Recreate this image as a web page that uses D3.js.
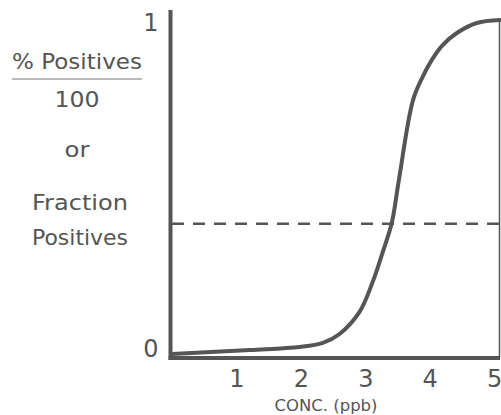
<!DOCTYPE html>
<html>
<head>
<meta charset="utf-8">
<script src="https://cdn.jsdelivr.net/npm/d3@7"></script>
<style>
  body { margin: 0; background: #fff; }
  svg text { font-family: "DejaVu Sans", sans-serif; fill: #555; }
</style>
</head>
<body>
<svg id="chart" width="501" height="415"></svg>
<script>
// concentration (ppb) vs fraction positives
const conc = [0, 1.21, 1.98, 2.34, 2.60, 2.91, 3.12, 3.27, 3.41, 3.52, 3.74, 3.89, 4.03, 4.20, 4.42, 4.73, 5.09];
const fraction = [0, 0.012, 0.021, 0.033, 0.06, 0.126, 0.219, 0.305, 0.392, 0.52, 0.76, 0.83, 0.88, 0.925, 0.961, 0.991, 1.0];
const xTicks = [1, 2, 3, 4, 5];
const yTicks = [0, 1];
const cutoff = 0.39;
const yLabelLines = ["% Positives", "100", "or", "Fraction", "Positives"];
const xLabel = "CONC. (ppb)";

const ink = "#555";
const svg = d3.select("#chart");

const x = d3.scaleLinear().domain([0, 5.09]).range([172, 500]);
const y = d3.scaleLinear().domain([0, 1]).range([354, 20]);
const xAxisY = 358, yAxisX = 170.5;

// x axis labels
const gx = svg.append("g")
    .attr("transform", `translate(0,${xAxisY})`)
    .call(d3.axisBottom(x).tickValues(xTicks).tickFormat(d3.format("d")).tickSize(0).tickPadding(12));
gx.select(".domain").remove();
gx.selectAll("text").style("font-size", "24px").style("font-family", "DejaVu Sans").attr("fill", ink);

// y axis labels
const gy = svg.append("g")
    .attr("transform", `translate(${yAxisX},0)`)
    .call(d3.axisLeft(y).tickValues(yTicks).tickFormat(d3.format("d")).tickSize(0).tickPadding(12));
gy.select(".domain").remove();
gy.selectAll("text").style("font-size", "24px").style("font-family", "DejaVu Sans").attr("fill", ink)
    .attr("dy", d => d === 0 ? "0.12em" : "0.45em");

// axis lines
svg.append("line")
    .attr("x1", yAxisX).attr("x2", yAxisX)
    .attr("y1", 10).attr("y2", xAxisY + 2)
    .attr("stroke", ink).attr("stroke-width", 4);
svg.append("line")
    .attr("x1", yAxisX - 2).attr("x2", x(5.09))
    .attr("y1", xAxisY).attr("y2", xAxisY)
    .attr("stroke", ink).attr("stroke-width", 4);
// thin right border
svg.append("line")
    .attr("x1", 499.5).attr("x2", 499.5)
    .attr("y1", y(1)).attr("y2", xAxisY)
    .attr("stroke", ink).attr("stroke-width", 1.5);

// dashed level
svg.append("line")
    .attr("x1", x(0)).attr("x2", x(5.09))
    .attr("y1", y(cutoff)).attr("y2", y(cutoff))
    .attr("stroke", ink).attr("stroke-width", 2.5)
    .attr("stroke-dasharray", "12,9");

// response curve
const pts = conc.map((c, i) => [c, fraction[i]]);
svg.append("path")
    .datum(pts)
    .attr("fill", "none")
    .attr("stroke", ink)
    .attr("stroke-width", 4)
    .attr("stroke-linecap", "round")
    .attr("d", d3.line().x(d => x(d[0])).y(d => y(d[1])).curve(d3.curveCatmullRom.alpha(0.5)));

// y title as stacked lines
const titleY = [69, 107, 157, 210, 245];
const titleX = [77, 77, 77, 80, 80];
const titleW = [130, 45, 25, 96, 96];
svg.selectAll(".ytitle")
    .data(yLabelLines)
    .enter()
    .append("text")
        .attr("class", "ytitle")
        .attr("x", (d, i) => titleX[i])
        .attr("y", (d, i) => titleY[i])
        .attr("text-anchor", "middle")
        .attr("textLength", (d, i) => titleW[i])
        .attr("lengthAdjust", "spacingAndGlyphs")
        .style("font-size", "22px")
        .text(d => d);
svg.append("line")
    .attr("x1", 12).attr("x2", 142)
    .attr("y1", 79).attr("y2", 79)
    .attr("stroke", "#777").attr("stroke-width", 1);

// x title
svg.append("text")
    .attr("x", 326).attr("y", 411)
    .attr("text-anchor", "middle")
    .attr("textLength", 103)
    .attr("lengthAdjust", "spacingAndGlyphs")
    .style("font-size", "16px")
    .text(xLabel);
</script>
</body>
</html>
